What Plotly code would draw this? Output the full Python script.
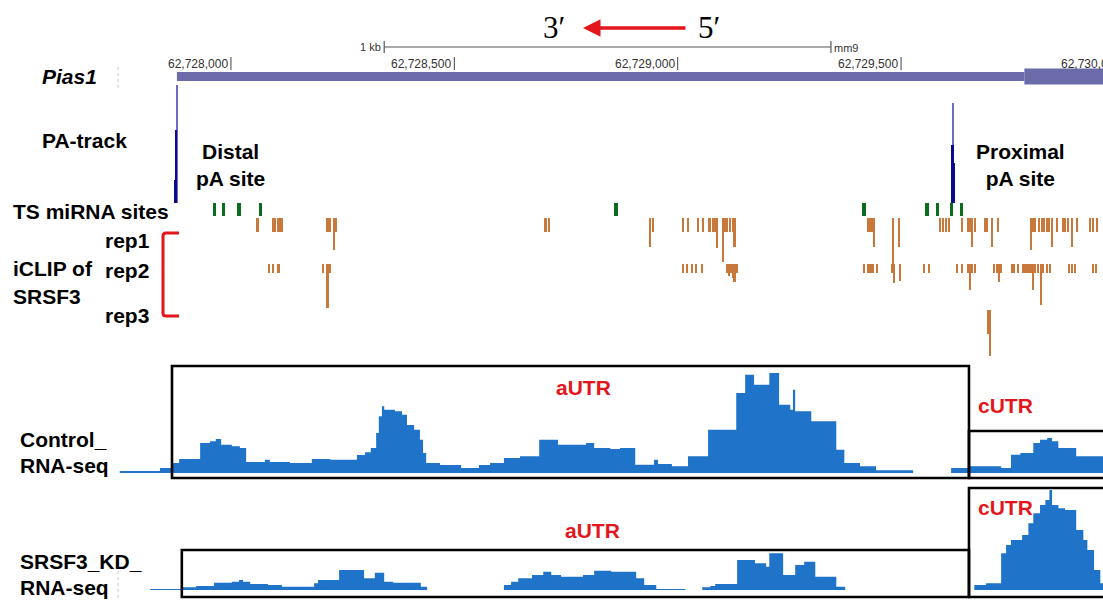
import plotly.graph_objects as go

W, H = 1103, 600

# ---------------- data (mm9 coordinates) ----------------
view_start, view_end = 62727483, 62729952
ruler_ticks = [62728000, 62728500, 62729000, 62729500, 62730000]
ruler_labels = ["62,728,000", "62,728,500", "62,729,000", "62,729,500", "62,730,000"]
scale_bar = [62728343, 62729343]  # 1 kb

gene_utr = [62727879, 62729776]
gene_cds = [62729776, 62730100]

# PA-track (polyA site reads)
pa_thin_pos = [62727880, 62729617]
pa_thin_val = [118, 100]
pa_peak_pos = [62727874, 62727876, 62727878, 62729614, 62729616, 62729619]
pa_peak_val = [23, 50, 73, 58, 58, 40]

# TargetScan miRNA sites
mirna_pos = [62727964, 62727984, 62728018, 62728067, 62728862,
             62729417, 62729558, 62729581, 62729612, 62729635]

# iCLIP of SRSF3 (crosslink counts)
rep1_pos = [62728060, 62728094, 62728099, 62728107, 62728114, 62728217, 62728222, 62728231,
            62728235, 62728705, 62728712, 62728938, 62728945, 62729012, 62729023, 62729046,
            62729057, 62729072, 62729079, 62729084, 62729088, 62729102, 62729106, 62729111,
            62729117, 62729124, 62729128, 62729426, 62729431, 62729435, 62729440, 62729482,
            62729496, 62729587, 62729594, 62729601, 62729608, 62729637, 62729650, 62729655,
            62729659, 62729666, 62729688, 62729693, 62729704, 62729717, 62729791, 62729796,
            62729800, 62729809, 62729816, 62729820, 62729827, 62729832, 62729838, 62729849,
            62729863, 62729867, 62729874, 62729883, 62729894, 62729923, 62729930, 62729939]
rep1_val = [14, 14, 14, 14, 14, 14, 14, 32,
            14, 14, 14, 29, 14, 14, 14, 14,
            14, 14, 14, 14, 30, 44, 14, 14,
            14, 14, 29, 14, 14, 14, 29, 65,
            29, 14, 14, 14, 14, 14, 14, 14,
            29, 14, 14, 14, 29, 14, 32, 14,
            14, 14, 14, 14, 14, 14, 29, 14,
            14, 14, 14, 29, 14, 14, 14, 14]

rep2_pos = [62728085, 62728094, 62728107, 62728206, 62728217, 62728222, 62729012, 62729021,
            62729032, 62729041, 62729055, 62729111, 62729115, 62729120, 62729124, 62729128,
            62729133, 62729417, 62729426, 62729431, 62729437, 62729446, 62729480, 62729485,
            62729498, 62729552, 62729563, 62729626, 62729637, 62729650, 62729655, 62729659,
            62729666, 62729708, 62729715, 62729720, 62729724, 62729749, 62729753, 62729762,
            62729773, 62729778, 62729782, 62729787, 62729791, 62729796, 62729800, 62729807,
            62729814, 62729818, 62729827, 62729834, 62729876, 62729883, 62729890, 62729930,
            62729937]
rep2_val = [9, 9, 9, 9, 44, 9, 9, 9,
            9, 9, 9, 9, 12, 9, 14, 18,
            9, 9, 9, 9, 9, 9, 9, 19,
            17, 9, 9, 9, 9, 9, 26, 9,
            9, 9, 9, 18, 9, 9, 9, 9,
            9, 9, 9, 9, 9, 26, 9, 9,
            41, 9, 9, 9, 9, 9, 9, 9,
            9]

rep3_pos = [62729696, 62729699]
rep3_val = [24, 46]

# RNA-seq coverage (step profile: value holds from each position to the next)
ctrl_pos = [62727751, 62727841, 62727866, 62727884, 62727931, 62727953, 62727966, 62727978,
            62728002, 62728020, 62728034, 62728076, 62728087, 62728132, 62728181, 62728222,
            62728282, 62728300, 62728313, 62728325, 62728331, 62728338, 62728343, 62728367,
            62728383, 62728394, 62728410, 62728423, 62728430, 62728437, 62728468, 62728515,
            62728555, 62728580, 62728611, 62728647, 62728690, 62728732, 62728795, 62728813,
            62728849, 62728871, 62728905, 62728947, 62728956, 62728987, 62729023, 62729068,
            62729131, 62729151, 62729171, 62729205, 62729227, 62729252, 62729258, 62729263,
            62729299, 62729355, 62729373, 62729408, 62729444, 62729527, 62729612, 62729652,
            62729724, 62729746, 62729767, 62729796, 62729811, 62729827, 62729838, 62729852,
            62729892, 62729960]
ctrl_val = [6, 15, 30, 42, 90, 95, 102, 85,
            80, 75, 33, 40, 33, 30, 42, 40,
            54, 62, 75, 120, 170, 200, 190, 185,
            175, 144, 130, 100, 60, 30, 24, 15,
            24, 30, 45, 50, 100, 85, 90, 75,
            72, 75, 25, 40, 27, 20, 50, 130,
            240, 295, 265, 300, 205, 190, 250, 185,
            155, 70, 30, 20, 8, 0, 15, 20,
            15, 55, 60, 90, 100, 105, 95, 75,
            50, 50]

kd_pos = [62727819, 62727890, 62727922, 62727962, 62728002, 62728018, 62728027, 62728043,
          62728083, 62728114, 62728186, 62728195, 62728242, 62728298, 62728322, 62728343,
          62728363, 62728425, 62728439, 62728611, 62728627, 62728643, 62728674, 62728699,
          62728717, 62728739, 62728788, 62728813, 62728851, 62728907, 62728925, 62728952,
          62729017, 62729055, 62729073, 62729084, 62729133, 62729173, 62729198, 62729205,
          62729236, 62729263, 62729283, 62729308, 62729355, 62729375, 62729664, 62729690,
          62729724, 62729735, 62729746, 62729771, 62729785, 62729796, 62729811, 62729823,
          62729832, 62729838, 62729852, 62729867, 62729892, 62729908, 62729917, 62729932,
          62729946, 62729960]
kd_val = [3, 8, 12, 22, 25, 30, 25, 18,
          15, 10, 20, 30, 60, 35, 52, 25,
          22, 10, 0, 15, 25, 35, 45, 55,
          45, 40, 45, 58, 55, 35, 15, 3,
          0, 8, 12, 18, 90, 80, 70, 110,
          45, 75, 85, 40, 10, 0, 15, 20,
          110, 135, 150, 165, 200, 230, 255, 270,
          300, 255, 245, 240, 180, 150, 120, 60,
          20, 20]

# highlighted UTR regions
ctrl_autr_box = [62727868, 62729652]
ctrl_cutr_box = [62729652, 62730100]
kd_autr_box = [62727890, 62729652]
kd_cutr_box = [62729652, 62730100]

# ---------------- styling helpers ----------------
def px_x(px):
    return px / W

def px_y(py):
    return 1 - py / H

SANS = "Liberation Sans, Arial, sans-serif"
SERIF = "Liberation Serif, Times New Roman, serif"
BLUE = "#1F74C9"
ORANGE = "#C8783A"
GREEN = "#0B6B1F"
NAVY = "#0A0A8C"
RED = "#E3161C"
GENE = "#6B6BA9"

fig = go.Figure()

# PA-track
fig.add_trace(go.Bar(x=pa_thin_pos, y=pa_thin_val, width=2.4, marker=dict(color="#6E6EC6", line=dict(width=0)),
                     xaxis="x", yaxis="y2", opacity=1))
fig.add_trace(go.Bar(x=pa_peak_pos, y=pa_peak_val, width=2.4, marker=dict(color=NAVY, line=dict(width=0)),
                     xaxis="x", yaxis="y2", opacity=1))
# miRNA sites
fig.add_trace(go.Bar(x=mirna_pos, y=[1] * len(mirna_pos), width=7, marker=dict(color=GREEN, line=dict(width=0)),
                     xaxis="x", yaxis="y3"))
# iCLIP replicates
for pos, val, ax in [(rep1_pos, rep1_val, "y4"), (rep2_pos, rep2_val, "y5"), (rep3_pos, rep3_val, "y6")]:
    fig.add_trace(go.Bar(x=pos, y=val, width=4.2, marker=dict(color=ORANGE, line=dict(width=0)),
                         xaxis="x", yaxis=ax))
# RNA-seq coverage
for pos, val, ax in [(ctrl_pos, ctrl_val, "y7"), (kd_pos, kd_val, "y8")]:
    fig.add_trace(go.Scatter(x=pos, y=val, mode="lines", line=dict(shape="hv", width=0, color=BLUE),
                             fill="tozeroy", fillcolor=BLUE, xaxis="x", yaxis=ax))

hidden = dict(visible=False, fixedrange=True)
fig.update_layout(
    width=W, height=H, autosize=False,
    margin=dict(l=0, r=0, t=0, b=0, pad=0),
    paper_bgcolor="white", plot_bgcolor="white",
    showlegend=False, barmode="overlay", bargap=0,
    xaxis=dict(domain=[0, 1], range=[view_start, view_end], **hidden),
    yaxis=dict(domain=[px_y(88), px_y(66)], range=[0, 1], anchor="x", **hidden),
    yaxis2=dict(domain=[px_y(203), px_y(85)], range=[0, 118], anchor="x", **hidden),
    yaxis3=dict(domain=[px_y(216), px_y(203)], range=[0, 1], anchor="x", **hidden),
    yaxis4=dict(domain=[px_y(288), px_y(218)], range=[70, 0], anchor="x", **hidden),
    yaxis5=dict(domain=[px_y(334), px_y(264)], range=[70, 0], anchor="x", **hidden),
    yaxis6=dict(domain=[px_y(380), px_y(310)], range=[70, 0], anchor="x", **hidden),
    yaxis7=dict(domain=[px_y(473), px_y(367)], range=[0, 318], anchor="x", **hidden),
    yaxis8=dict(domain=[px_y(590), px_y(484)], range=[0, 318], anchor="x", **hidden),
)

shapes = []
# gene model
shapes.append(dict(type="rect", xref="x", yref="paper", x0=gene_utr[0], x1=gene_utr[1],
                   y0=px_y(81), y1=px_y(72), fillcolor=GENE, line=dict(width=0), layer="below"))
shapes.append(dict(type="rect", xref="x", yref="paper", x0=gene_cds[0], x1=gene_cds[1],
                   y0=px_y(84.5), y1=px_y(68.5), fillcolor=GENE, line=dict(width=0), layer="below"))
# ruler ticks
for t in ruler_ticks:
    shapes.append(dict(type="line", xref="x", yref="paper", x0=t, x1=t, y0=px_y(70), y1=px_y(57),
                       line=dict(color="#444444", width=1)))
# scale bar
shapes.append(dict(type="line", xref="x", yref="paper", x0=scale_bar[0], x1=scale_bar[1],
                   y0=px_y(47), y1=px_y(47), line=dict(color="#555555", width=1.2)))
for s in scale_bar:
    shapes.append(dict(type="line", xref="x", yref="paper", x0=s, x1=s, y0=px_y(53), y1=px_y(41),
                       line=dict(color="#555555", width=1.2)))
# UTR boxes
box_line = dict(color="black", width=2.6)
shapes.append(dict(type="rect", xref="x", yref="paper", x0=ctrl_autr_box[0], x1=ctrl_autr_box[1],
                   y0=px_y(478), y1=px_y(366), line=box_line))
shapes.append(dict(type="rect", xref="x", yref="paper", x0=ctrl_cutr_box[0], x1=ctrl_cutr_box[1],
                   y0=px_y(478), y1=px_y(431), line=box_line))
shapes.append(dict(type="rect", xref="x", yref="paper", x0=kd_autr_box[0], x1=kd_autr_box[1],
                   y0=px_y(597), y1=px_y(550), line=box_line))
shapes.append(dict(type="rect", xref="x", yref="paper", x0=kd_cutr_box[0], x1=kd_cutr_box[1],
                   y0=px_y(597), y1=px_y(488), line=box_line))
# red bracket for iCLIP replicates
bx0, bx1, by0, by1 = 163, 179, 233, 316
path = (f"M {px_x(bx1)},{px_y(by0)} L {px_x(bx0 + 3)},{px_y(by0)} "
        f"Q {px_x(bx0)},{px_y(by0)} {px_x(bx0)},{px_y(by0 + 3)} "
        f"L {px_x(bx0)},{px_y(by1 - 3)} Q {px_x(bx0)},{px_y(by1)} {px_x(bx0 + 3)},{px_y(by1)} "
        f"L {px_x(bx1)},{px_y(by1)}")
shapes.append(dict(type="path", xref="paper", yref="paper", path=path, line=dict(color=RED, width=3)))
# faint track separators
for (ya, yb) in [(66, 88), (570, 598)]:
    shapes.append(dict(type="line", xref="paper", yref="paper", x0=px_x(118), x1=px_x(118),
                       y0=px_y(yb), y1=px_y(ya), line=dict(color="#C8C8C8", width=1, dash="dot")))
fig.update_layout(shapes=shapes)

ann = []

def label(text, x, y, size=21, color="black", xanchor="left", family=SANS, align="left"):
    ann.append(dict(text=text, x=px_x(x), y=px_y(y), xref="paper", yref="paper", showarrow=False,
                    xanchor=xanchor, yanchor="middle", align=align,
                    font=dict(family=family, size=size, color=color)))

# ruler labels (right of label touches tick, UCSC style)
span = view_end - view_start
for t, lab in zip(ruler_ticks, ruler_labels):
    ann.append(dict(text=lab, x=(t - view_start) / span, y=px_y(64), xref="paper", yref="paper",
                    showarrow=False, xanchor="right", yanchor="middle", xshift=-1,
                    font=dict(family=SANS, size=12, color="#333333")))
ann.append(dict(text="1 kb", x=(scale_bar[0] - view_start) / span, y=px_y(47), xref="paper", yref="paper",
                showarrow=False, xanchor="right", yanchor="middle", xshift=-1,
                font=dict(family=SANS, size=11, color="#333333")))
ann.append(dict(text="mm9", x=(scale_bar[1] - view_start) / span, y=px_y(48), xref="paper", yref="paper",
                showarrow=False, xanchor="left", yanchor="middle", xshift=1,
                font=dict(family=SANS, size=11, color="#333333")))

# strand direction
label("3\u2032", 554, 27, size=31, family=SERIF, xanchor="center")
label("5\u2032", 709, 27, size=31, family=SERIF, xanchor="center")
ann.append(dict(text="", x=px_x(583), y=px_y(28), xref="paper", yref="paper", showarrow=True,
                ax=104, ay=0, arrowhead=2, arrowsize=1, arrowwidth=3.5, arrowcolor=RED, standoff=0))

# track labels
label("<b><i>Pias1</i></b>", 40, 77)
label("<b>PA-track</b>", 40, 140)
label("<b>Distal<br>pA site</b>", 230, 165, xanchor="center", align="center")
label("<b>Proximal<br>pA site</b>", 1020, 165, xanchor="center", align="center")
label("<b>TS miRNA sites</b>", 11, 212)
label("<b>rep1</b>", 103, 240)
label("<b>rep2</b>", 103, 270)
label("<b>rep3</b>", 103, 316)
label("<b>iCLIP of</b>", 11, 268)
label("<b>SRSF3</b>", 11, 296)
label("<b>Control_</b>", 18, 440)
label("<b>RNA-seq</b>", 18, 465)
label("<b>SRSF3_KD_</b>", 18, 561)
label("<b>RNA-seq</b>", 18, 587)
label("<b>aUTR</b>", 583, 388, color=RED, xanchor="center")
label("<b>cUTR</b>", 1005, 405, color=RED, xanchor="center")
label("<b>aUTR</b>", 592, 530, color=RED, xanchor="center")
label("<b>cUTR</b>", 1005, 507, color=RED, xanchor="center")

fig.update_layout(annotations=ann)

fig.write_html("out.html", config={"displayModeBar": False})
